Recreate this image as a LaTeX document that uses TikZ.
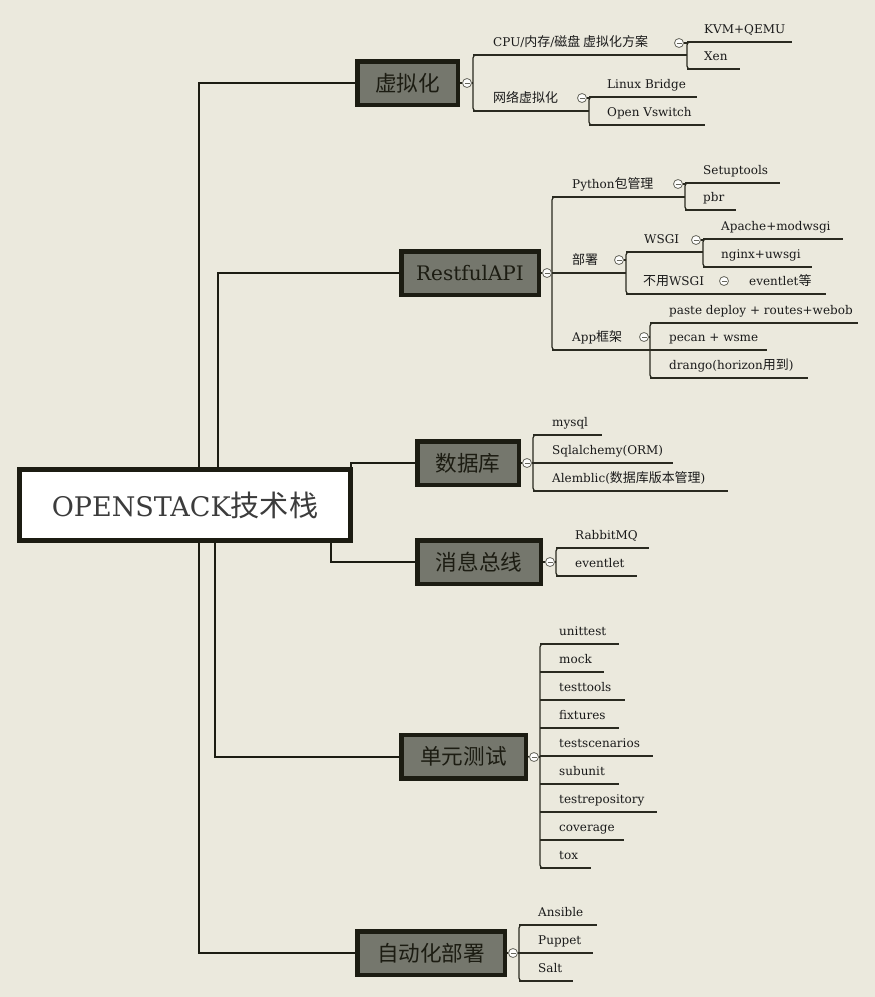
\documentclass[tikz,border=0pt]{standalone}
\usepackage{fontspec}
\setmainfont{DejaVu Serif}
\newfontfamily\cjk[Scale=1.08]{Noto Sans CJK SC}
\newcommand\zh[1]{{\cjk #1}}
\definecolor{bg}{HTML}{EBE9DD}
\definecolor{boxfill}{HTML}{75776D}
\definecolor{ink}{HTML}{1C1C12}
\definecolor{twigc}{HTML}{2A2A20}
\definecolor{txt}{HTML}{1A1A1A}
\definecolor{circ}{HTML}{66665C}
% name, bracket x, text x, underline y, end x, text
\newcommand\lfn[6]{%
  \node[leaftext] (#1) at (#3,#4-9) {#6};
  \draw[twig] (#2,#4) -- (#5,#4);}
% x, ytop, ybot
\newcommand\brk[3]{%
  \draw[twig,rounded corners=3pt] (#1+8,#2) -- (#1,#2) -- (#1,#3) -- (#1+8,#3);}
\begin{document}
\begin{tikzpicture}[x=1pt,y=-1pt,
  rootbox/.style={draw=ink,line width=5pt,fill=white,minimum width=331pt,minimum height=71pt,
    inner sep=0pt,font=\fontsize{27}{30}\selectfont,text=txt!85!white},
  branch/.style={draw=ink,line width=4.5pt,fill=boxfill,minimum height=43.5pt,
    inner sep=0pt,font=\fontsize{20}{24}\selectfont,text=ink},
  leaftext/.style={anchor=base west,inner sep=0pt,font=\fontsize{12}{14}\selectfont,text=txt},
  trunk/.style={draw=ink,line width=2pt},
  twig/.style={draw=twigc,line width=1.2pt},
  fold/.style={circle,minimum size=9pt,inner sep=0pt,draw=circ,line width=0.8pt,fill=white!92!bg,
    path picture={\draw[circ,line width=0.8pt]
      ([xshift=-2.5pt]path picture bounding box.center) -- ([xshift=2.5pt]path picture bounding box.center);}}
]
\fill[bg] (0,0) rectangle (875,997);
\useasboundingbox (0,0) rectangle (875,997);

% x reference coordinates
\coordinate (x199) at (199,0);
\coordinate (x218) at (218,0);
\coordinate (x215) at (215,0);
\coordinate (x331) at (331,0);
\coordinate (x351) at (351,0);

% root and main branches
\node[rootbox] (root) at (185,505) {OPENSTACK\zh{技术栈}};
\node[branch,minimum width=100.5pt] (b1) at (407.5,83) {\zh{虚拟化}};
\node[branch,minimum width=137.5pt] (b2) at (470,273) {RestfulAPI};
\node[branch,minimum width=101.5pt] (b3) at (468,463) {\zh{数据库}};
\node[branch,minimum width=123.5pt] (b4) at (479,562) {\zh{消息总线}};
\node[branch,minimum width=124.5pt] (b5) at (463.5,756.5) {\zh{单元测试}};
\node[branch,minimum width=147.5pt] (b6) at (431,953) {\zh{自动化部署}};

\draw[trunk] (root.north -| x199) |- (b1.west);
\draw[trunk] (root.north -| x218) |- (b2.west);
\draw[trunk] (root.north -| x351) |- (b3.west);
\draw[trunk] (root.south -| x331) |- (b4.west);
\draw[trunk] (root.south -| x215) |- (b5.west);
\draw[trunk] (root.south -| x199) |- (b6.west);

% ---------- 虚拟化 ----------
\brk{473}{55}{111}
\lfn{cpu}{473}{493}{55}{687}{CPU/\zh{内存}/\zh{磁盘 虚拟化方案}}
\brk{687}{42}{69}
\lfn{kvm}{687}{704}{42}{792}{KVM+QEMU}
\lfn{xen}{687}{704}{69}{740}{Xen}
\lfn{net}{473}{493}{111}{589}{\zh{网络虚拟化}}
\brk{589}{97}{125}
\lfn{lbr}{589}{607}{97}{697}{Linux Bridge}
\lfn{ovs}{589}{607}{125}{705}{Open Vswitch}
\node[fold] (m1) at (467,83) {};
\draw[twig] (b1.east) -- (m1.west);
\draw[twig] (m1.east) -- (473,83);
\node[fold] (s11) at (679,43) {};
\draw[twig] (s11.east) -- (687,43);
\node[fold] (s12) at (582,98) {};
\draw[twig] (s12.east) -- (589,98);

% ---------- RestfulAPI ----------
\brk{552}{197}{350}
\lfn{pkg}{552}{572}{197}{685}{Python\zh{包管理}}
\brk{685}{183}{210}
\lfn{setup}{685}{703}{183}{780}{Setuptools}
\lfn{pbr}{685}{703}{210}{736}{pbr}
\lfn{deploy}{552}{572}{273}{626}{\zh{部署}}
\brk{626}{252}{294}
\lfn{wsgi}{626}{644}{252}{703}{WSGI}
\brk{703}{239}{267}
\lfn{apache}{703}{721}{239}{843}{Apache+modwsgi}
\lfn{nginx}{703}{721}{267}{812}{nginx+uwsgi}
\lfn{nowsgi}{626}{643}{294}{740}{\zh{不用}WSGI}
\lfn{evlet}{740}{749}{294}{826}{eventlet\zh{等}}
\lfn{app}{552}{572}{350}{650}{App\zh{框架}}
\brk{650}{323}{378}
\lfn{paste}{650}{669}{323}{858}{paste deploy + routes+webob}
\lfn{pecan}{650}{669}{350}{767}{pecan + wsme}
\lfn{drango}{650}{669}{378}{808}{drango(horizon\zh{用到})}
\node[fold] (m2) at (547,273) {};
\draw[twig] (b2.east) -- (m2.west);
\draw[twig] (m2.east) -- (552,273);
\node[fold] (s21) at (678,184) {};
\draw[twig] (s21.east) -- (685,184);
\node[fold] (s22) at (619,260) {};
\draw[twig] (s22.east) -- (626,260);
\node[fold] (s221) at (696,240) {};
\draw[twig] (s221.east) -- (703,240);
\node[fold] (s222) at (724,281) {};
\node[fold] (s23) at (644,337) {};
\draw[twig] (s23.east) -- (650,337);

% ---------- 数据库 ----------
\brk{533}{435}{491}
\lfn{mysql}{533}{552}{435}{602}{mysql}
\lfn{sqla}{533}{552}{463}{673}{Sqlalchemy(ORM)}
\lfn{alem}{533}{552}{491}{728}{Alemblic(\zh{数据库版本管理})}
\node[fold] (m3) at (527,463) {};
\draw[twig] (b3.east) -- (m3.west);
\draw[twig] (m3.east) -- (533,463);

% ---------- 消息总线 ----------
\brk{556}{548}{576}
\lfn{rabbit}{556}{575}{548}{649}{RabbitMQ}
\lfn{evlet2}{556}{575}{576}{637}{eventlet}
\node[fold] (m4) at (550,562) {};
\draw[twig] (b4.east) -- (m4.west);
\draw[twig] (m4.east) -- (556,562);

% ---------- 单元测试 ----------
\brk{540}{644}{868}
\lfn{t1}{540}{559}{644}{619}{unittest}
\lfn{t2}{540}{559}{672}{604}{mock}
\lfn{t3}{540}{559}{700}{625}{testtools}
\lfn{t4}{540}{559}{728}{619}{fixtures}
\lfn{t5}{540}{559}{756}{653}{testscenarios}
\lfn{t6}{540}{559}{784}{619}{subunit}
\lfn{t7}{540}{559}{812}{657}{testrepository}
\lfn{t8}{540}{559}{840}{624}{coverage}
\lfn{t9}{540}{559}{868}{591}{tox}
\node[fold] (m5) at (534,757) {};
\draw[twig] (b5.east) -- (m5.west);
\draw[twig] (m5.east) -- (540,757);

% ---------- 自动化部署 ----------
\brk{519}{925}{981}
\lfn{ansible}{519}{538}{925}{597}{Ansible}
\lfn{puppet}{519}{538}{953}{593}{Puppet}
\lfn{salt}{519}{538}{981}{573}{Salt}
\node[fold] (m6) at (513,953) {};
\draw[twig] (b6.east) -- (m6.west);
\draw[twig] (m6.east) -- (519,953);
\end{tikzpicture}
\end{document}
